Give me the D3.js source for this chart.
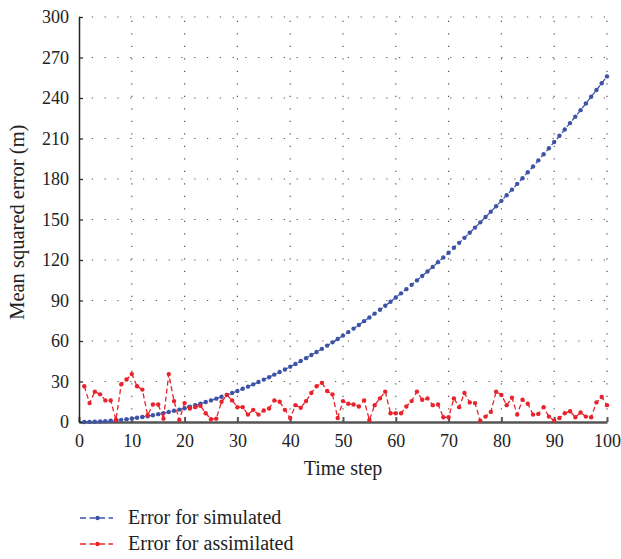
<!DOCTYPE html>
<html>
<head>
<meta charset="utf-8">
<script src="https://cdn.jsdelivr.net/npm/d3@7"></script>
<style>
  body { margin: 0; background: #fff; }
  text { font-family: "Liberation Serif", "DejaVu Serif", serif; fill: #222; }
</style>
</head>
<body>
<div id="chart"></div>
<script>
// data
const steps = d3.range(1, 101);

const simulated = [
  0.0, 0.1, 0.2, 0.4, 0.6, 0.9, 1.3, 1.6, 2.1, 2.6,
  3.1, 3.7, 4.3, 5.0, 5.8, 6.6, 7.4, 8.3, 9.2, 10.2,
  11.3, 12.4, 13.5, 14.8, 16.0, 17.3, 18.7, 20.1, 21.5, 23.0,
  24.6, 26.2, 27.9, 29.6, 31.4, 33.2, 35.1, 37.0, 38.9, 41.0,
  43.0, 45.2, 47.3, 49.6, 51.8, 54.2, 56.6, 59.0, 61.5, 64.0,
  66.6, 69.2, 71.9, 74.7, 77.4, 80.3, 83.2, 86.1, 89.1, 92.2,
  95.3, 98.4, 101.6, 104.9, 108.2, 111.5, 114.9, 118.4, 121.9, 125.4,
  129.1, 132.7, 136.4, 140.2, 144.0, 147.9, 151.8, 155.8, 159.8, 163.8,
  168.0, 172.1, 176.4, 180.6, 185.0, 189.3, 193.8, 198.3, 202.8, 207.4,
  212.0, 216.7, 221.4, 226.2, 231.0, 235.9, 240.9, 245.9, 250.9, 256.0
];

const assimilated = [
  26.5, 14, 22.5, 20.5, 16, 16, 1.5, 28, 31.5, 35.5,
  26.5, 24, 5, 13, 13, 2.5, 35.5, 15.5, 1.5, 14,
  10, 11, 12, 6.5, 2, 2.5, 15, 20, 16, 11,
  11, 5.5, 9, 5.5, 8.5, 10, 16, 15, 9, 3,
  12.5, 10.5, 15.5, 21.5, 26.5, 29, 23, 20.5, 3, 15.5,
  13.5, 13, 11.5, 16, 1.5, 12.5, 17.5, 22.5, 6.5, 6.5,
  6.5, 11.5, 15.5, 22.5, 16.5, 17.5, 12.5, 13, 3.5, 3.5,
  17.5, 11, 21.5, 14.5, 14, 1, 4, 7.5, 22.5, 20,
  12.5, 18, 5.5, 16.5, 13.5, 5.5, 6, 11, 4, 1,
  3, 6.5, 8, 3.5, 7, 4, 3.5, 14.5, 18.5, 12.5
];

const xTicks = d3.range(0, 101, 10);
const yTicks = d3.range(0, 301, 30);

const seriesNames = ["Error for simulated", "Error for assimilated"];
const seriesColors = ["#3d53a6", "#e8232b"];

const width = 621, height = 559;
const margin = {left: 79, right: 14, top: 17, bottom: 137};

const svg = d3.select("#chart").append("svg")
  .attr("width", width)
  .attr("height", height);

const x = d3.scaleLinear().domain([0, 100]).range([margin.left, width - margin.right]);
const y = d3.scaleLinear().domain([0, 300]).range([height - margin.bottom, margin.top]);

// dotted grid
svg.append("g")
  .selectAll("line")
  .data(xTicks.slice(1))
  .join("line")
  .attr("x1", d => x(d)).attr("x2", d => x(d))
  .attr("y1", y(0)).attr("y2", y(300))
  .attr("stroke", "#555")
  .attr("stroke-width", 1.2)
  .attr("stroke-dasharray", "1.2,11.3");

svg.append("g")
  .selectAll("line")
  .data(yTicks.slice(1))
  .join("line")
  .attr("x1", x(0)).attr("x2", x(100))
  .attr("y1", d => y(d)).attr("y2", d => y(d))
  .attr("stroke", "#555")
  .attr("stroke-width", 1.2)
  .attr("stroke-dasharray", "1.2,11.6");

// axes
const xAxis = svg.append("g")
  .attr("transform", `translate(0,${y(0)})`)
  .call(d3.axisBottom(x).tickValues(xTicks).tickSizeInner(-5).tickSizeOuter(0).tickPadding(12));
xAxis.select(".domain").attr("stroke", "#555").attr("stroke-width", 2.5);
xAxis.selectAll(".tick line").attr("stroke", "#555").attr("stroke-width", 2);
xAxis.selectAll("text").attr("font-size", 18).attr("font-family", "Liberation Serif").attr("fill", "#222");

const yAxis = svg.append("g")
  .attr("transform", `translate(${x(0)},0)`)
  .call(d3.axisLeft(y).tickValues(yTicks).tickSizeInner(-4).tickSizeOuter(0).tickPadding(10));
yAxis.select(".domain").attr("stroke", "#222").attr("stroke-width", 1.5);
yAxis.selectAll(".tick line").attr("stroke", "#222").attr("stroke-width", 1.2);
yAxis.selectAll("text").attr("font-size", 18).attr("font-family", "Liberation Serif").attr("fill", "#222");

// axis titles
svg.append("text")
  .attr("x", x(50)).attr("y", 475)
  .attr("text-anchor", "middle")
  .attr("font-size", 20)
  .text("Time step");

svg.append("text")
  .attr("transform", `translate(24,${y(148)}) rotate(-90)`)
  .attr("text-anchor", "middle")
  .attr("font-size", 20.5)
  .text("Mean squared error (m)");

// series
const line = d3.line().x((d, i) => x(steps[i])).y(d => y(d));

[simulated, assimilated].forEach((values, k) => {
  const g = svg.append("g");
  g.append("path")
    .datum(values)
    .attr("d", line)
    .attr("fill", "none")
    .attr("stroke", seriesColors[k])
    .attr("stroke-width", 1.3)
    .attr("stroke-dasharray", "5,3");
  g.selectAll("circle")
    .data(values)
    .join("circle")
    .attr("cx", (d, i) => x(steps[i]))
    .attr("cy", d => y(d))
    .attr("r", 2.2)
    .attr("fill", seriesColors[k]);
});

// legend
const legend = svg.append("g");
seriesNames.forEach((name, k) => {
  const ly = 518 + k * 26;
  legend.append("line")
    .attr("x1", 80).attr("x2", 113)
    .attr("y1", ly).attr("y2", ly)
    .attr("stroke", seriesColors[k])
    .attr("stroke-width", 1.3)
    .attr("stroke-dasharray", "6,3.5");
  legend.append("circle")
    .attr("cx", 97.5).attr("cy", ly).attr("r", 2.2)
    .attr("fill", seriesColors[k]);
  legend.append("text")
    .attr("x", 128).attr("y", ly + 6)
    .attr("font-size", 20)
    .text(name);
});
</script>
</body>
</html>
